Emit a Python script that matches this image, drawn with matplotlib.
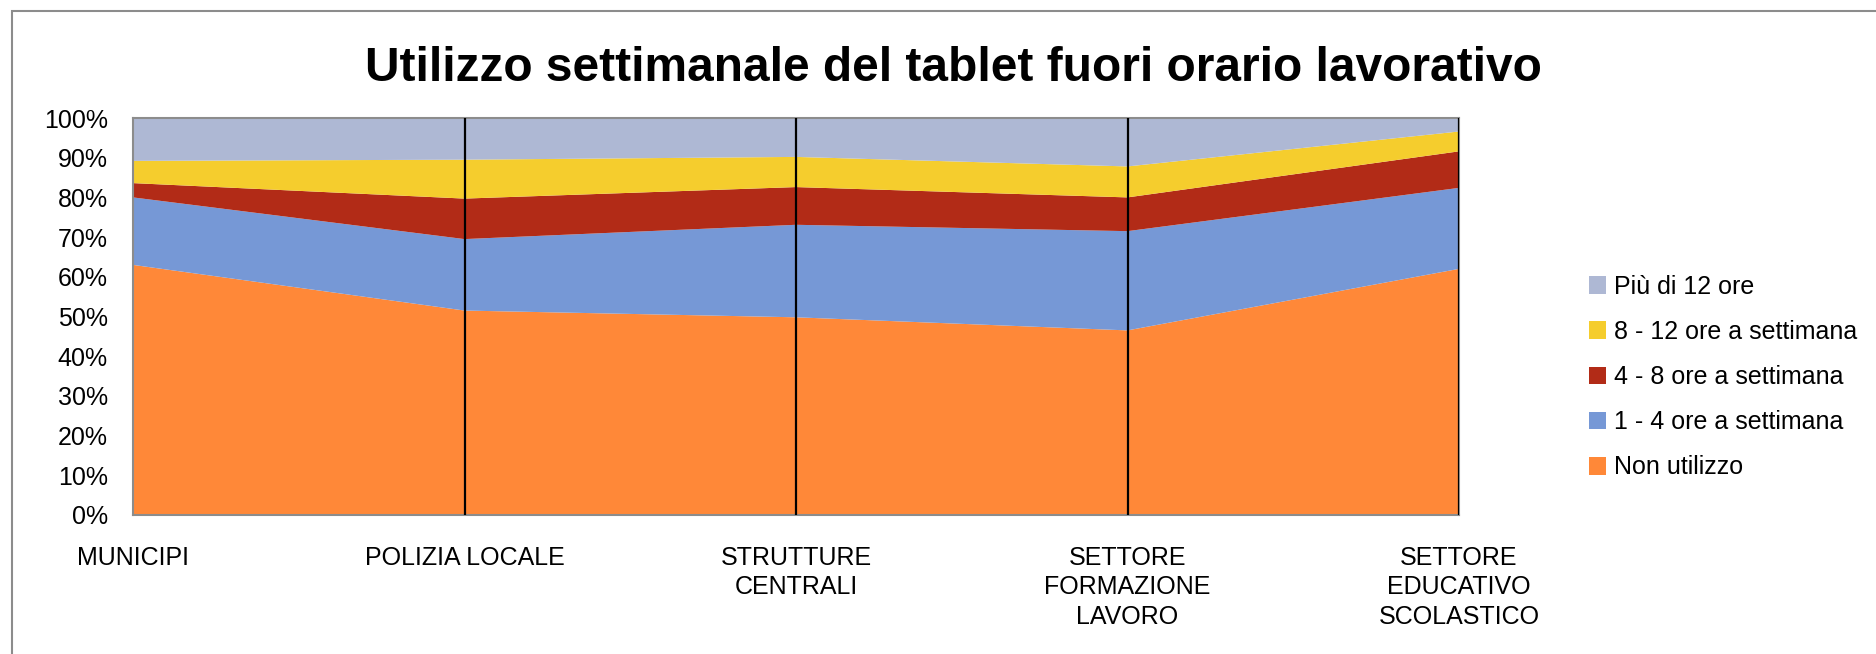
import matplotlib.pyplot as plt
import numpy as np
from matplotlib.patches import Rectangle
from matplotlib.ticker import PercentFormatter

# categorie e valori (%)
categories = ["MUNICIPI", "POLIZIA LOCALE", "STRUTTURE\nCENTRALI",
              "SETTORE\nFORMAZIONE\nLAVORO", "SETTORE\nEDUCATIVO\nSCOLASTICO"]
non_utilizzo = [63.0, 51.5, 49.8, 46.5, 62.0]
ore_1_4 = [17.0, 18.0, 23.3, 25.0, 20.4]
ore_4_8 = [3.6, 10.2, 9.5, 8.5, 9.2]
ore_8_12 = [5.6, 9.8, 7.6, 7.8, 5.0]
piu_12 = [10.8, 10.5, 9.8, 12.2, 3.4]

series_labels = ["Non utilizzo", "1 - 4 ore a settimana", "4 - 8 ore a settimana",
                 "8 - 12 ore a settimana", "Più di 12 ore"]
colors = ["#FF8838", "#7698D6", "#B22B17", "#F5CD2D", "#AEB8D4"]

plt.rcParams["font.family"] = ["Liberation Sans", "DejaVu Sans"]

fig = plt.figure(figsize=(18.76, 6.54), dpi=100)
ax = fig.add_axes([133 / 1876, 1 - 515 / 654, (1459 - 133) / 1876, (515 - 118) / 654])

x = np.arange(len(categories))
data = np.array([non_utilizzo, ore_1_4, ore_4_8, ore_8_12, piu_12])
# normalizza a 100%
data = data / data.sum(axis=0) * 100
ax.stackplot(x, data, colors=colors, labels=series_labels, linewidth=0)

# linee verticali sulle categorie
ax.vlines(x[1:], 0, 100, color="black", linewidth=1.6, zorder=3)

ax.set_xlim(0, len(categories) - 1)
ax.set_ylim(0, 100)
ax.set_yticks(np.arange(0, 101, 10))
ax.yaxis.set_major_formatter(PercentFormatter(decimals=0))
ax.set_xticks(x)
ax.set_xticklabels(categories, fontsize=18, linespacing=1.3)
ax.tick_params(axis="y", length=0, pad=18, labelsize=18)
ax.tick_params(axis="x", length=0, pad=22)
for s in ax.spines.values():
    s.set_color("#8C8C8C")
    s.set_linewidth(1.5)

fig.text(953 / 1876, 1 - 81 / 654,
         "Utilizzo settimanale del tablet fuori orario lavorativo",
         fontsize=34.5, fontweight="bold", ha="center", va="baseline")

handles, labels = ax.get_legend_handles_labels()
ax.legend(handles[::-1], labels[::-1], loc="center left",
          bbox_to_anchor=(1566 / 1876, 1 - 377 / 654), bbox_transform=fig.transFigure,
          frameon=False, fontsize=18, handlelength=0.7, handleheight=0.7,
          handletextpad=0.3, labelspacing=0.85)

# bordo del grafico
fig.patches.append(Rectangle((12 / 1876, -0.1), 2.0, 1 - 11 / 654 + 0.1,
                             transform=fig.transFigure, fill=False,
                             edgecolor="#8C8C8C", linewidth=1.5))

fig.savefig("out.png", dpi=100)
